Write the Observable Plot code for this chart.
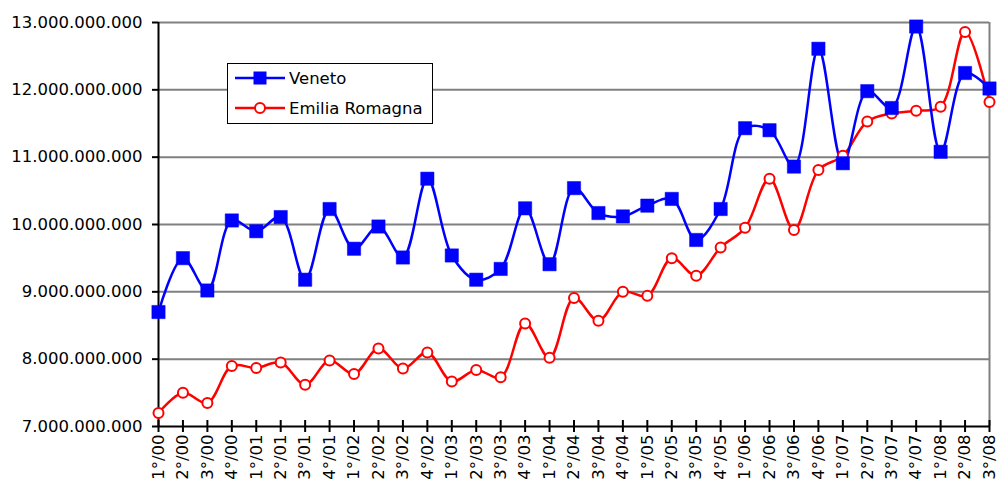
<!DOCTYPE html>
<html>
<head>
<meta charset="utf-8">
<script src="https://cdn.jsdelivr.net/npm/d3@7"></script>
<script src="https://cdn.jsdelivr.net/npm/@observablehq/plot@0.6"></script>
<style>
  html, body { margin: 0; padding: 0; background: #fff; }
  #wrap { position: relative; width: 998px; height: 479px; overflow: hidden; font-family: "DejaVu Sans", sans-serif; }
  #legend { position: absolute; left: 227px; top: 63px; width: 206px; height: 61px; border: 1px solid #000; background: #fff; box-sizing: border-box; font-size: 16.5px; }
  .item { position: absolute; left: 7px; display: flex; align-items: center; }
  .item span { margin-left: 4px; }
</style>
</head>
<body>
<div id="wrap"></div>
<script>
const quarters = ["1°/00","2°/00","3°/00","4°/00","1°/01","2°/01","3°/01","4°/01","1°/02","2°/02","3°/02","4°/02","1°/03","2°/03","3°/03","4°/03","1°/04","2°/04","3°/04","4°/04","1°/05","2°/05","3°/05","4°/05","1°/06","2°/06","3°/06","4°/06","1°/07","2°/07","3°/07","4°/07","1°/08","2°/08","3°/08"];
const veneto = [8.70,9.50,9.02,10.06,9.90,10.11,9.18,10.23,9.64,9.97,9.51,10.68,9.54,9.18,9.34,10.24,9.41,10.54,10.17,10.12,10.28,10.38,9.77,10.23,11.43,11.40,10.86,12.61,10.91,11.98,11.73,12.94,11.08,12.25,12.02].map(v => v * 1e9);
const emilia = [7.20,7.50,7.35,7.90,7.87,7.95,7.62,7.98,7.78,8.16,7.86,8.10,7.67,7.84,7.73,8.53,8.02,8.91,8.57,9.00,8.94,9.50,9.24,9.66,9.95,10.68,9.92,10.81,11.02,11.53,11.65,11.69,11.75,12.86,11.82].map(v => v * 1e9);
const yTicks = [7e9,8e9,9e9,10e9,11e9,12e9,13e9];
const seriesNames = ["Veneto","Emilia Romagna"];

const blue = "#0000FF", red = "#FF0000", grid = "#808080";
const itFmt = d3.formatLocale({decimal: ",", thousands: ".", grouping: [3], currency: ["", "€"]}).format(",");

const vData = quarters.map((q, i) => ({q, v: veneto[i]}));
const eData = quarters.map((q, i) => ({q, v: emilia[i]}));

const chart = Plot.plot({
  width: 998,
  height: 479,
  marginLeft: 158,
  marginRight: 9,
  marginTop: 22,
  marginBottom: 53,
  style: {fontFamily: "DejaVu Sans, sans-serif", fontSize: "16.5px", color: "#000", background: "#fff", overflow: "visible"},
  x: {type: "point", domain: quarters, padding: 0, round: false},
  y: {domain: [7e9, 13e9]},
  marks: [
    Plot.ruleY(yTicks.slice(1), {stroke: grid, strokeWidth: 2}),
    Plot.ruleX([quarters[quarters.length - 1]], {stroke: grid, strokeWidth: 2}),
    Plot.ruleX([quarters[0]], {stroke: "#000", strokeWidth: 2}),
    Plot.ruleY([7e9], {stroke: "#000", strokeWidth: 2}),
    Plot.axisY({ticks: yTicks, tickSize: 6, tickPadding: 10, tickFormat: itFmt, label: null, strokeWidth: 2, fontSize: 16.5}),
    Plot.axisX({tickSize: 12, dy: -6, tickFormat: () => "", label: null, strokeWidth: 2}),
    Plot.axisX({tickSize: 0, tickPadding: 8, tickRotate: -90, label: null, fontSize: 16.5}),
    Plot.line(eData, {x: "q", y: "v", stroke: red, strokeWidth: 2.5, curve: "catmull-rom"}),
    Plot.line(vData, {x: "q", y: "v", stroke: blue, strokeWidth: 2.5, curve: "catmull-rom"}),
    Plot.dot(eData, {x: "q", y: "v", r: 5, fill: "#fff", stroke: red, strokeWidth: 2}),
    Plot.dot(vData, {x: "q", y: "v", r: 7.5, symbol: "square", fill: blue, stroke: blue, strokeWidth: 0.5})
  ]
});

const wrap = document.getElementById("wrap");
wrap.appendChild(chart);

const legend = document.createElement("div");
legend.id = "legend";
legend.innerHTML = `
  <div class="item" style="top:4px"><svg width="50" height="20"><line x1="0" y1="10" x2="50" y2="10" stroke="${blue}" stroke-width="2.5"/><rect x="18.5" y="3.5" width="13" height="13" fill="${blue}"/></svg><span>${seriesNames[0]}</span></div>
  <div class="item" style="top:34px"><svg width="50" height="20"><line x1="0" y1="10" x2="50" y2="10" stroke="${red}" stroke-width="2.5"/><circle cx="25" cy="10" r="5" fill="#fff" stroke="${red}" stroke-width="2"/></svg><span>${seriesNames[1]}</span></div>`;
wrap.appendChild(legend);
</script>
</body>
</html>
